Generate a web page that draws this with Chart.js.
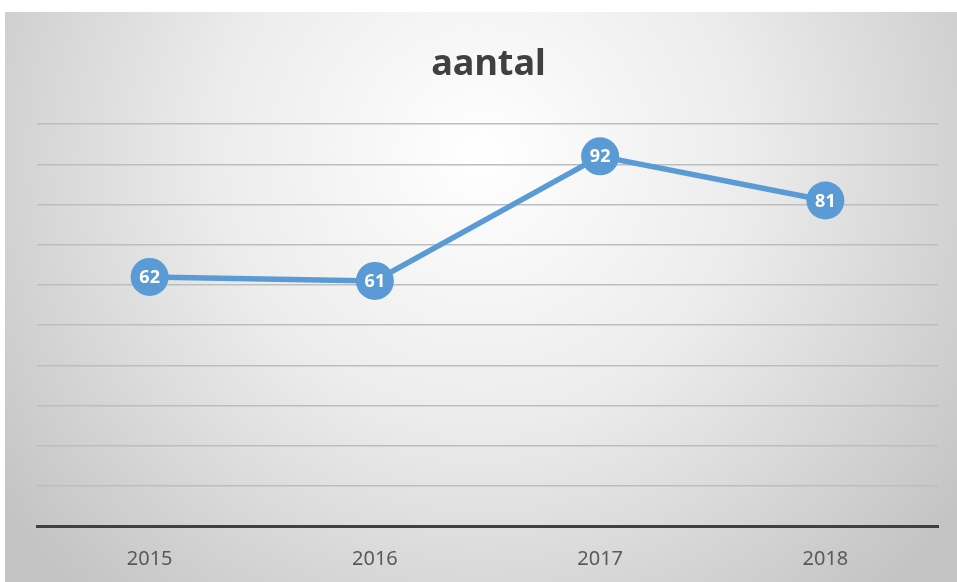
<!DOCTYPE html>
<html>
<head>
<meta charset="utf-8">
<script src="https://cdn.jsdelivr.net/npm/chart.js@4/dist/chart.umd.min.js"></script>
<style>
  body { margin: 0; background: #ffffff; overflow: hidden; }
  #wrap { position: absolute; left: 5px; top: 12px; width: 952px; height: 573px; }
</style>
</head>
<body>
<div id="wrap"><canvas id="myChart"></canvas></div>
<script>
const years = ['2015', '2016', '2017', '2018'];
const aantal = [62, 61, 92, 81];
const yMin = 0, yMax = 100, yStep = 10;

// Excel style radial background
const bgPlugin = {
  id: 'bg',
  beforeDraw(chart) {
    const ctx = chart.ctx, w = chart.width, h = chart.height;
    const g = ctx.createRadialGradient(w * 0.5, h * 0.25, 0, w * 0.5, h * 0.25, w * 0.62);
    g.addColorStop(0, '#ffffff');
    g.addColorStop(0.45, '#ececec');
    g.addColorStop(1, '#c4c4c4');
    ctx.save();
    ctx.fillStyle = g;
    ctx.fillRect(0, 0, w, h);
    ctx.restore();
  }
};

// values written inside the markers
const labelPlugin = {
  id: 'pointLabels',
  afterDatasetsDraw(chart) {
    const ctx = chart.ctx;
    const meta = chart.getDatasetMeta(0);
    ctx.save();
    ctx.fillStyle = '#ffffff';
    ctx.font = 'bold 18px "Noto Sans", sans-serif';
    ctx.textAlign = 'center';
    ctx.textBaseline = 'middle';
    meta.data.forEach((pt, i) => {
      ctx.fillText(aantal[i], pt.x, pt.y + 1);
    });
    ctx.restore();
  }
};

const ctx = document.getElementById('myChart').getContext('2d');
new Chart(ctx, {
  type: 'line',
  data: {
    labels: years,
    datasets: [{
      label: 'aantal',
      data: aantal,
      borderColor: '#5b9bd5',
      backgroundColor: '#5b9bd5',
      borderWidth: 5.5,
      pointRadius: 19,
      pointHoverRadius: 19,
      pointBorderWidth: 0,
      fill: false,
      tension: 0
    }]
  },
  options: {
    responsive: true,
    maintainAspectRatio: false,
    animation: false,
    events: [],
    layout: { padding: { left: 32, right: 17, top: 0, bottom: 1 } },
    plugins: {
      legend: { display: false },
      tooltip: { enabled: false },
      title: {
        display: true,
        text: 'aantal',
        color: '#404040',
        font: { family: '"Noto Sans", sans-serif', size: 36, weight: 'bold' },
        padding: { top: 31, bottom: 38 }
      }
    },
    scales: {
      x: {
        offset: true,
        grid: { display: false },
        border: { display: true, color: '#404040', width: 3 },
        ticks: {
          color: '#595959',
          font: { family: '"Noto Sans", sans-serif', size: 20 },
          padding: 13
        }
      },
      y: {
        min: yMin,
        max: yMax,
        ticks: { display: false, stepSize: yStep },
        border: { display: false },
        grid: { color: '#bdbdbd', lineWidth: 1.5, drawTicks: false },
        afterFit(scale) { scale.width = 0; }
      }
    }
  },
  plugins: [bgPlugin, labelPlugin]
});
</script>
</body>
</html>
